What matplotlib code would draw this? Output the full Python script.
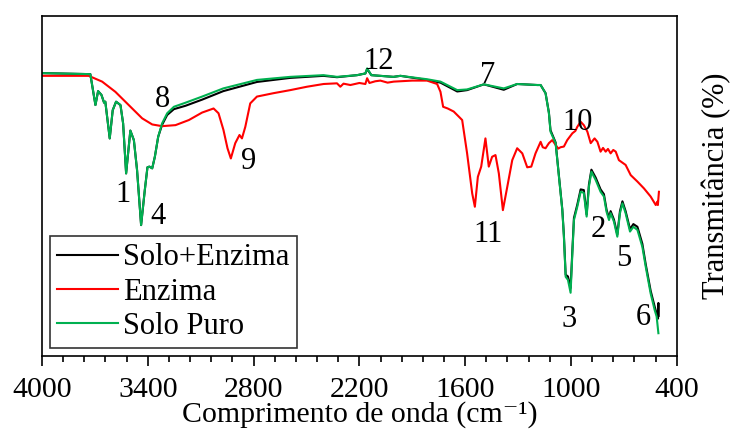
import numpy as np
import matplotlib.pyplot as plt

plt.rcParams['font.family'] = ['Liberation Serif', 'DejaVu Serif']

# Espectros FTIR: numero de onda (cm-1) e transmitancia (escala relativa)
wn_solo = [4000, 3726, 3697, 3682, 3663, 3648, 3641, 3616, 3599, 3580, 3555, 3540,
           3523, 3499, 3479, 3461, 3438, 3417, 3402, 3391, 3375, 3360, 3341, 3319,
           3290, 3252, 3186, 3092, 2972, 2781, 2592, 2404, 2327, 2213, 2166, 2156,
           2132, 2007, 1967, 1816, 1740, 1645, 1589, 1494, 1381, 1305, 1191, 1172,
           1144, 1125, 1116, 1087, 1068, 1049, 1040, 1030, 1017, 1002, 992, 983,
           964, 945, 927, 911, 898, 884, 860, 832, 813, 798, 784, 775, 756, 737,
           722, 708, 690, 665, 646, 623, 595, 576, 548, 525, 514, 504]
t_solo_puro = [83.2, 82.9, 73.8, 77.9, 76.8, 74.5, 74.8, 64.0, 72.3, 74.8, 73.8, 68.4,
               53.7, 66.3, 63.5, 54.7, 38.5, 48.8, 55.5, 55.7, 55.2, 58.6, 64.5, 68.4,
               71.4, 73.3, 74.5, 76.3, 78.7, 81.2, 82.1, 82.6, 82.1, 82.6, 83.1, 84.6,
               82.6, 82.1, 82.4, 81.4, 80.7, 78.2, 78.4, 79.9, 78.7, 80.0, 79.7, 79.7,
               77.3, 71.4, 66.0, 62.6, 52.7, 42.9, 35.1, 23.3, 22.4, 18.6, 30.2, 40.0,
               43.9, 48.3, 48.0, 41.0, 49.8, 54.2, 51.8, 48.3, 46.9, 42.4, 40.0, 42.0,
               39.5, 35.1, 42.0, 44.9, 42.0, 36.6, 38.0, 37.1, 32.1, 26.3, 18.4, 13.5,
               11.6, 6.7]

wn_solo_enz = wn_solo[:-1] + [506, 504, 503]
t_solo_enz = [83.2, 82.9, 73.8, 77.9, 76.8, 74.5, 74.8, 64.0, 72.3, 74.8, 73.8, 68.4,
              53.7, 66.3, 63.5, 54.7, 38.5, 48.8, 55.5, 55.7, 55.2, 58.6, 64.5, 68.0,
              70.9, 72.6, 73.6, 75.4, 77.9, 80.6, 81.8, 82.4, 82.0, 82.6, 83.1, 84.4,
              82.6, 82.1, 82.4, 81.2, 80.4, 77.8, 78.2, 79.9, 78.3, 80.0, 79.7, 79.7,
              77.3, 71.6, 66.4, 62.8, 52.9, 43.1, 35.5, 23.9, 23.4, 20.0, 31.0, 40.6,
              44.5, 49.0, 48.8, 41.6, 50.4, 54.8, 52.5, 49.0, 47.6, 43.0, 40.6, 42.6,
              40.1, 35.7, 42.6, 45.5, 42.6, 37.3, 38.8, 38.0, 33.0, 27.0, 19.2, 14.5,
              12.5, 11.0, 15.6, 11.8]

wn_enzima = [4000, 3735, 3659, 3584, 3508, 3432, 3375, 3319, 3243, 3167, 3092, 3027,
             2999, 2971, 2948, 2929, 2904, 2880, 2866, 2847, 2819, 2781, 2687, 2592,
             2497, 2403, 2327, 2308, 2290, 2251, 2200, 2166, 2156, 2143, 2110, 2081,
             2040, 2005, 1900, 1816, 1759, 1740, 1725, 1699, 1665, 1636, 1617, 1589,
             1560, 1545, 1528, 1509, 1485, 1466, 1447, 1428, 1409, 1386, 1361, 1333,
             1305, 1276, 1248, 1225, 1201, 1172, 1160, 1144, 1125, 1106, 1087, 1072,
             1059, 1040, 1021, 992, 975, 964, 945, 927, 907, 888, 866, 850, 832, 818,
             803, 790, 775, 760, 746, 728, 690, 661, 623, 586, 548, 519, 510, 507, 501]
t_enzima = [82.4, 82.4, 80.7, 77.7, 73.8, 69.9, 68.1, 67.6, 67.9, 69.4, 71.6, 72.8,
            71.4, 66.5, 61.1, 58.1, 62.6, 65.0, 64.0, 67.4, 74.3, 76.3, 77.3, 78.2,
            79.2, 80.0, 80.2, 79.2, 80.1, 79.7, 80.3, 80.0, 81.7, 80.3, 80.8, 81.0,
            80.4, 80.7, 81.0, 81.0, 80.0, 77.7, 73.3, 72.8, 71.9, 70.4, 69.4, 59.6,
            47.8, 43.9, 52.7, 55.7, 64.0, 55.7, 58.6, 59.1, 53.7, 42.9, 49.8, 57.6,
            61.1, 59.6, 55.5, 55.7, 59.6, 63.0, 61.4, 61.1, 62.6, 63.5, 62.1, 61.0,
            61.4, 61.6, 63.5, 65.5, 66.2, 67.4, 68.9, 67.9, 66.0, 62.6, 64.0, 63.0,
            60.1, 61.2, 60.1, 60.9, 59.6, 60.6, 60.1, 57.6, 56.2, 53.2, 51.3, 49.3,
            46.9, 44.4, 45.4, 44.4, 48.3]

# rotulos das bandas: (texto, numero de onda, transmitancia)
bandas = [("1", 3540, 47.4), ("4", 3341, 40.9), ("8", 3319, 75.3), ("9", 2830, 57.1),
          ("12", 2092, 86.5), ("7", 1473, 82.6), ("10", 962, 68.8), ("11", 1468, 35.6),
          ("2", 843, 37.1), ("5", 701, 28.8), ("3", 1013, 10.6), ("6", 587, 11.2)]

x_major = [4000, 3400, 2800, 2200, 1600, 1000, 400]

fig = plt.figure(figsize=(7.32, 4.36), dpi=100)
ax = fig.add_axes([0.0574, 0.1835, 0.8671, 0.7798])

ax.plot(wn_solo_enz, t_solo_enz, color="black", lw=1.5, label="Solo+Enzima")
ax.plot(wn_enzima, t_enzima, color="#FF0000", lw=1.5, label="Enzima")
ax.plot(wn_solo, t_solo_puro, color="#00B050", lw=1.5, label="Solo Puro")

for txt, x, y in bandas:
    ax.text(x, y, txt, fontsize=22, ha="center", va="center")

ax.set_xlim(4000, 400)
ax.set_ylim(0, 100)
ax.set_xticks(x_major)
ax.set_xticks(np.arange(4000, 399, -120), minor=True)
ax.tick_params(axis="x", which="major", direction="out", length=7, width=1.2,
               labelsize=21.5, pad=8)
ax.tick_params(axis="x", which="minor", direction="out", length=4, width=1.2)
ax.set_yticks([])
for s in ax.spines.values():
    s.set_linewidth(1.2)

ax.set_xlabel("Comprimento de onda (cm⁻¹)", fontsize=21.5, labelpad=-1)
ax.yaxis.set_label_position("right")
ax.set_ylabel("Transmitância (%)", fontsize=22, labelpad=18)

leg = ax.legend(loc="lower left", fontsize=22, frameon=True, fancybox=False,
                edgecolor="black", handlelength=2.0, handletextpad=0.15,
                labelspacing=0.17, borderpad=0.25, borderaxespad=0.25)
leg.get_frame().set_linewidth(1.2)

fig.savefig("out.png", dpi=100)
